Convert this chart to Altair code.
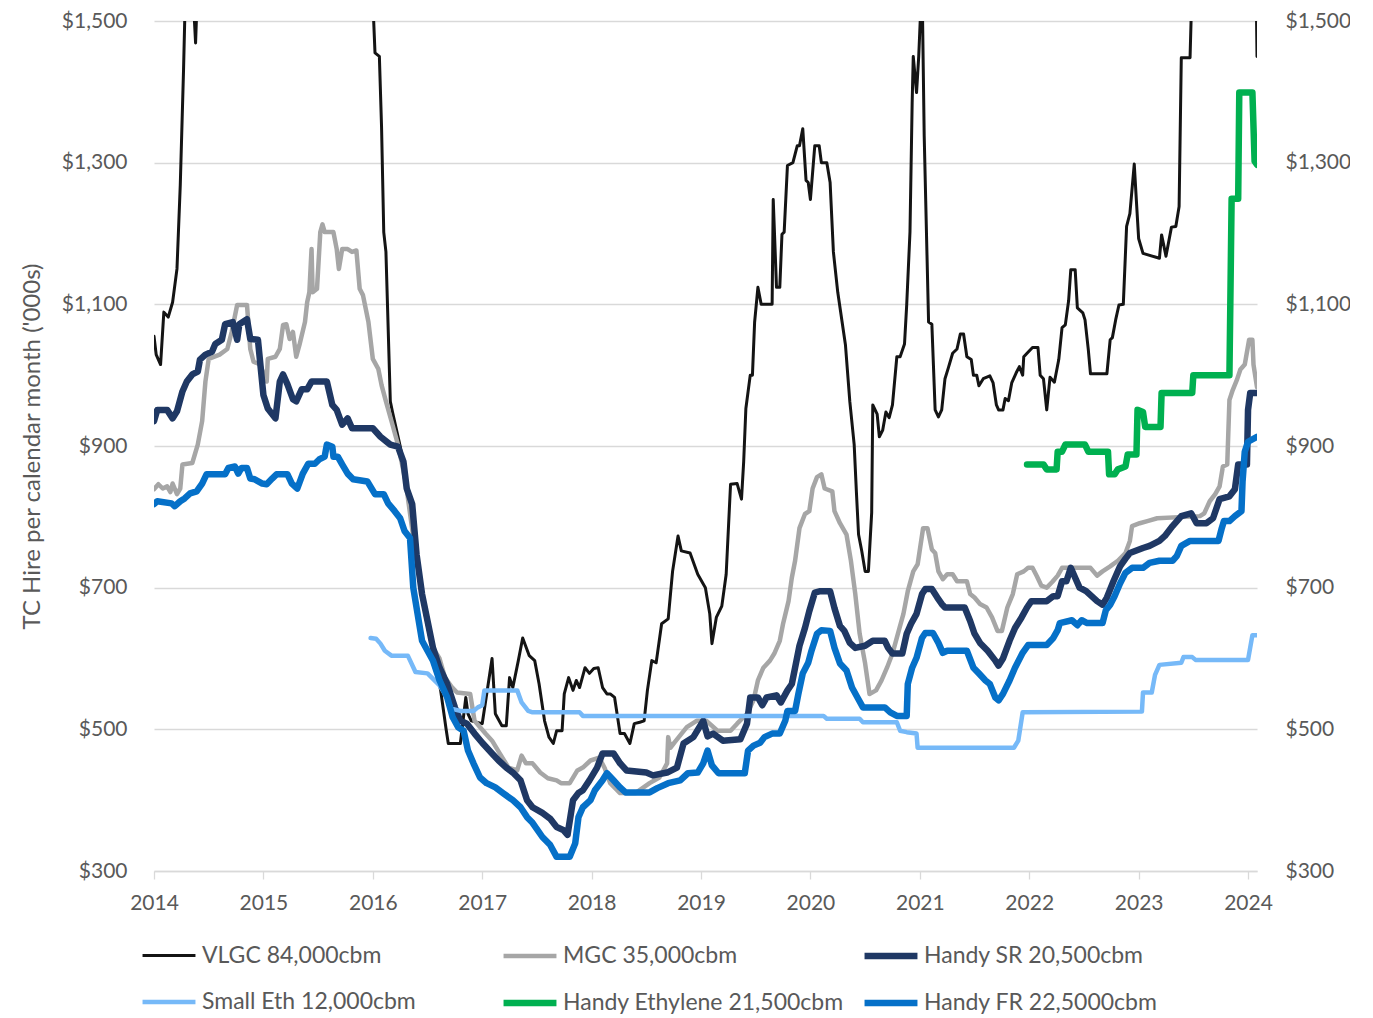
import altair as alt
import pandas as pd

SERIES = ["VLGC 84,000cbm", "MGC 35,000cbm", "Handy SR 20,500cbm",
          "Small Eth 12,000cbm", "Handy Ethylene 21,500cbm", "Handy FR 22,5000cbm"]
COLORS = ["#141414", "#a6a6a6", "#1f3864", "#76b9f8", "#00b050", "#0570c8"]
WIDTHS = [3, 4.5, 6.5, 4.5, 6.5, 6.5]

VLGC_T = [2014.00, 2014.02, 2014.06, 2014.09, 2014.13, 2014.17, 2014.21, 2014.24, 2014.27, 2014.29,
          2014.33, 2014.38, 2014.41, 2014.50, 2014.70, 2014.90, 2015.10, 2015.40, 2015.70, 2015.90,
          2016.00, 2016.02, 2016.06, 2016.08, 2016.10, 2016.12, 2016.16, 2016.18, 2016.25, 2016.32,
          2016.40, 2016.48, 2016.56, 2016.62, 2016.67, 2016.69, 2016.80, 2016.85, 2016.87, 2016.90,
          2017.00, 2017.09, 2017.12, 2017.18, 2017.22, 2017.25, 2017.28, 2017.33, 2017.37, 2017.43,
          2017.48, 2017.52, 2017.57, 2017.61, 2017.65, 2017.68, 2017.73, 2017.75, 2017.79, 2017.83,
          2017.86, 2017.89, 2017.94, 2017.98, 2018.02, 2018.06, 2018.10, 2018.14, 2018.17, 2018.21,
          2018.26, 2018.30, 2018.35, 2018.39, 2018.44, 2018.48, 2018.51, 2018.55, 2018.59, 2018.64,
          2018.70, 2018.74, 2018.79, 2018.82, 2018.90, 2018.97, 2019.04, 2019.08, 2019.10, 2019.14,
          2019.19, 2019.23, 2019.27, 2019.33, 2019.37, 2019.39, 2019.41, 2019.45, 2019.47, 2019.49,
          2019.52, 2019.55, 2019.65, 2019.66, 2019.69, 2019.72, 2019.74, 2019.76, 2019.79, 2019.84,
          2019.88, 2019.90, 2019.93, 2019.96, 2019.98, 2020.00, 2020.04, 2020.08, 2020.10, 2020.15,
          2020.18, 2020.21, 2020.25, 2020.32, 2020.36, 2020.40, 2020.42, 2020.44, 2020.47, 2020.50,
          2020.53, 2020.56, 2020.57, 2020.61, 2020.63, 2020.66, 2020.69, 2020.72, 2020.75, 2020.79,
          2020.82, 2020.86, 2020.88, 2020.91, 2020.93, 2020.94, 2020.97, 2020.99, 2021.02, 2021.04,
          2021.08, 2021.11, 2021.14, 2021.17, 2021.20, 2021.23, 2021.26, 2021.30, 2021.34, 2021.37,
          2021.40, 2021.43, 2021.47, 2021.49, 2021.52, 2021.54, 2021.58, 2021.64, 2021.67, 2021.70,
          2021.72, 2021.76, 2021.78, 2021.81, 2021.84, 2021.88, 2021.91, 2021.94, 2021.95, 2021.98,
          2022.03, 2022.08, 2022.10, 2022.13, 2022.16, 2022.19, 2022.23, 2022.27, 2022.30, 2022.33,
          2022.36, 2022.38, 2022.42, 2022.44, 2022.49, 2022.51, 2022.54, 2022.56, 2022.71, 2022.74,
          2022.76, 2022.79, 2022.82, 2022.86, 2022.89, 2022.92, 2022.96, 2022.98, 2023.00, 2023.04,
          2023.19, 2023.21, 2023.25, 2023.30, 2023.34, 2023.37, 2023.39, 2023.47, 2023.49, 2023.60,
          2023.80, 2024.00, 2024.07, 2024.082]
VLGC_V = [1055, 1029, 1015, 1089, 1082, 1103, 1150, 1268, 1431, 1560,
          1620, 1469, 1600, 1750, 1900, 1950, 1850, 1900, 1800, 1650,
          1530, 1455, 1450, 1350, 1202, 1174, 963, 948, 900, 840,
          740, 660, 600, 555, 500, 480, 480, 545, 522, 512,
          508, 600, 522, 505, 505, 573, 559, 597, 629, 604,
          597, 564, 512, 489, 480, 498, 498, 550, 573, 555,
          569, 559, 587, 579, 586, 587, 559, 550, 550, 545,
          494, 494, 480, 508, 510, 512, 555, 597, 594, 649,
          656, 723, 773, 752, 749, 719, 700, 663, 621, 658,
          674, 719, 846, 847, 825, 878, 953, 1000, 1000, 1075,
          1124, 1100, 1100, 1248, 1124, 1124, 1199, 1202, 1296, 1300,
          1324, 1324, 1348, 1275, 1272, 1248, 1324, 1324, 1300, 1300,
          1272, 1174, 1117, 1043, 963, 902, 836, 775, 751, 723,
          723, 806, 958, 945, 913, 922, 948, 940, 958, 1026,
          1026, 1044, 1099, 1202, 1385, 1450, 1399, 1450, 1560, 1338,
          1075, 1072, 951, 941, 951, 995, 1010, 1031, 1037, 1058,
          1058, 1026, 1022, 1000, 1000, 985, 995, 999, 989, 958,
          951, 951, 967, 964, 989, 1003, 1012, 1000, 1026, 1031,
          1039, 1039, 1000, 995, 951, 997, 990, 1022, 1067, 1071,
          1105, 1149, 1149, 1095, 1088, 1078, 1036, 1002, 1002, 1050,
          1053, 1078, 1099, 1100, 1210, 1228, 1298, 1245, 1193, 1172,
          1165, 1198, 1168, 1209, 1210, 1238, 1448, 1448, 1560, 1700,
          1800, 1700, 1600, 1450]

MGC_T = [2014.00, 2014.04, 2014.08, 2014.12, 2014.15, 2014.17, 2014.21, 2014.24, 2014.26, 2014.35,
         2014.40, 2014.44, 2014.47, 2014.50, 2014.60, 2014.67, 2014.71, 2014.76, 2014.85, 2014.88,
         2014.91, 2014.97, 2015.03, 2015.04, 2015.11, 2015.15, 2015.18, 2015.21, 2015.24, 2015.27,
         2015.30, 2015.33, 2015.38, 2015.40, 2015.42, 2015.44, 2015.45, 2015.49, 2015.52, 2015.54,
         2015.56, 2015.64, 2015.67, 2015.69, 2015.72, 2015.77, 2015.81, 2015.85, 2015.88, 2015.91,
         2015.96, 2016.00, 2016.05, 2016.08, 2016.12, 2016.18, 2016.23, 2016.30, 2016.38, 2016.45,
         2016.50, 2016.55, 2016.61, 2016.66, 2016.72, 2016.77, 2016.89, 2016.93, 2017.03, 2017.09,
         2017.16, 2017.24, 2017.32, 2017.36, 2017.40, 2017.46, 2017.53, 2017.60, 2017.68, 2017.72,
         2017.80, 2017.87, 2017.92, 2017.99, 2018.07, 2018.12, 2018.17, 2018.26, 2018.40, 2018.53,
         2018.62, 2018.69, 2018.70, 2018.72, 2018.76, 2018.87, 2018.96, 2019.05, 2019.15, 2019.27,
         2019.33, 2019.42, 2019.48, 2019.52, 2019.57, 2019.63, 2019.67, 2019.72, 2019.75, 2019.80,
         2019.83, 2019.86, 2019.90, 2019.95, 2019.99, 2020.02, 2020.06, 2020.10, 2020.13, 2020.20,
         2020.22, 2020.27, 2020.33, 2020.37, 2020.41, 2020.45, 2020.50, 2020.54, 2020.60, 2020.65,
         2020.70, 2020.75, 2020.80, 2020.85, 2020.89, 2020.94, 2020.98, 2021.03, 2021.07, 2021.11,
         2021.14, 2021.17, 2021.21, 2021.25, 2021.30, 2021.34, 2021.43, 2021.46, 2021.50, 2021.55,
         2021.61, 2021.66, 2021.71, 2021.75, 2021.80, 2021.85, 2021.89, 2021.95, 2021.99, 2022.03,
         2022.07, 2022.11, 2022.16, 2022.21, 2022.26, 2022.30, 2022.56, 2022.62, 2022.67, 2022.74,
         2022.81, 2022.88, 2022.92, 2022.94, 2023.01, 2023.08, 2023.17, 2023.56, 2023.60, 2023.65,
         2023.70, 2023.74, 2023.77, 2023.81, 2023.83, 2023.86, 2023.90, 2023.93, 2023.97, 2024.01,
         2024.04, 2024.05, 2024.082]
MGC_V = [839, 846, 840, 843, 835, 847, 832, 840, 874, 876,
         902, 935, 991, 1023, 1029, 1037, 1061, 1099, 1099, 1037,
         1019, 1015, 991, 1023, 1026, 1037, 1071, 1072, 1051, 1061,
         1026, 1043, 1075, 1103, 1117, 1178, 1117, 1122, 1202, 1213,
         1202, 1202, 1178, 1150, 1178, 1178, 1174, 1176, 1122, 1113,
         1075, 1023, 1009, 986, 963, 930, 902, 850, 760, 690,
         653, 615, 600, 573, 560, 552, 550, 512, 494, 484,
         466, 446, 442, 463, 452, 452, 439, 431, 428, 424,
         424, 442, 446, 456, 460, 445, 424, 410, 410, 424,
         432, 452, 489, 474, 482, 503, 512, 512, 498, 498,
         508, 522, 541, 569, 587, 597, 607, 625, 649, 681,
         714, 738, 784, 804, 808, 840, 856, 860, 840, 836,
         808, 791, 775, 738, 691, 635, 593, 550, 555, 569,
         587, 607, 635, 663, 695, 723, 733, 784, 784, 754,
         749, 723, 712, 719, 719, 709, 709, 691, 686, 677,
         672, 658, 639, 639, 672, 691, 719, 723, 728, 728,
         716, 703, 700, 708, 717, 728, 728, 717, 723, 730,
         738, 749, 766, 787, 791, 794, 798, 801, 805, 822,
         832, 843, 871, 874, 965, 979, 994, 1008, 1015, 1050,
         1050, 1015, 983]

SR_T = [2014.00, 2014.03, 2014.12, 2014.17, 2014.21, 2014.26, 2014.30, 2014.35, 2014.40, 2014.42,
        2014.47, 2014.53, 2014.56, 2014.62, 2014.65, 2014.72, 2014.76, 2014.78, 2014.85, 2014.88,
        2014.95, 2015.00, 2015.04, 2015.11, 2015.15, 2015.18, 2015.22, 2015.27, 2015.30, 2015.35,
        2015.40, 2015.44, 2015.58, 2015.63, 2015.67, 2015.72, 2015.77, 2015.81, 2016.00, 2016.07,
        2016.16, 2016.23, 2016.28, 2016.31, 2016.36, 2016.40, 2016.45, 2016.50, 2016.55, 2016.61,
        2016.68, 2016.75, 2016.80, 2016.86, 2016.93, 2017.00, 2017.09, 2017.15, 2017.22, 2017.28,
        2017.35, 2017.41, 2017.46, 2017.55, 2017.62, 2017.68, 2017.74, 2017.78, 2017.83, 2017.88,
        2017.92, 2017.98, 2018.05, 2018.10, 2018.20, 2018.26, 2018.32, 2018.50, 2018.56, 2018.69,
        2018.78, 2018.84, 2018.93, 2019.02, 2019.06, 2019.11, 2019.20, 2019.36, 2019.42, 2019.45,
        2019.52, 2019.56, 2019.60, 2019.69, 2019.73, 2019.79, 2019.83, 2019.86, 2019.90, 2019.95,
        2019.99, 2020.04, 2020.09, 2020.18, 2020.22, 2020.27, 2020.31, 2020.36, 2020.41, 2020.50,
        2020.57, 2020.68, 2020.71, 2020.75, 2020.84, 2020.88, 2020.92, 2020.97, 2021.02, 2021.05,
        2021.11, 2021.16, 2021.20, 2021.23, 2021.41, 2021.46, 2021.50, 2021.55, 2021.62, 2021.69,
        2021.72, 2021.76, 2021.82, 2021.87, 2021.93, 2021.98, 2022.02, 2022.16, 2022.22, 2022.26,
        2022.30, 2022.34, 2022.38, 2022.42, 2022.46, 2022.52, 2022.57, 2022.62, 2022.67, 2022.71,
        2022.77, 2022.83, 2022.88, 2022.92, 2023.04, 2023.10, 2023.19, 2023.24, 2023.31, 2023.39,
        2023.48, 2023.53, 2023.62, 2023.68, 2023.74, 2023.83, 2023.88, 2023.91, 2023.99, 2024.00,
        2024.02, 2024.082]
SR_V = [935, 951, 951, 939, 949, 977, 991, 1001, 1005, 1022,
        1029, 1033, 1044, 1050, 1072, 1075, 1050, 1072, 1079, 1051,
        1050, 972, 953, 939, 991, 1001, 987, 966, 963, 980,
        980, 991, 991, 958, 951, 930, 939, 925, 925, 913,
        902, 899, 878, 840, 818, 747, 691, 653, 615, 587,
        564, 531, 512, 508, 494, 481, 466, 456, 446, 439,
        428, 400, 390, 382, 374, 362, 358, 351, 400, 410,
        414, 428, 446, 466, 466, 452, 442, 439, 435, 439,
        446, 480, 489, 512, 490, 494, 484, 486, 508, 545,
        545, 534, 545, 548, 538, 555, 564, 587, 618, 643,
        667, 693, 695, 695, 671, 646, 639, 622, 615, 618,
        625, 625, 615, 607, 607, 635, 649, 663, 691, 698,
        698, 686, 677, 672, 672, 653, 635, 622, 611, 597,
        590, 600, 625, 643, 658, 672, 681, 681, 688, 688,
        709, 709, 728, 714, 700, 695, 688, 681, 676, 686,
        709, 730, 741, 749, 756, 759, 766, 773, 787, 801,
        805, 791, 791, 798, 825, 829, 839, 874, 874, 951,
        975, 975]

SMALL_T = [2015.98, 2016.03, 2016.07, 2016.11, 2016.17, 2016.32, 2016.39, 2016.50, 2016.61, 2016.66,
           2016.72, 2016.80, 2016.92, 2016.96, 2017.00, 2017.02, 2017.32, 2017.36, 2017.42, 2017.46,
           2017.89, 2017.92, 2020.12, 2020.15, 2020.45, 2020.48, 2020.79, 2020.82, 2020.88, 2020.97,
           2020.98, 2021.86, 2021.90, 2021.94, 2023.03, 2023.04, 2023.12, 2023.15, 2023.19, 2023.39,
           2023.41, 2023.49, 2023.52, 2024.00, 2024.04, 2024.082]
SMALL_V = [629, 628, 621, 611, 604, 604, 581, 579, 562, 550,
           529, 526, 526, 531, 534, 555, 555, 538, 526, 524,
           524, 519, 519, 515, 515, 510, 510, 498, 496, 494,
           474, 474, 484, 524, 525, 552, 552, 577, 591, 594,
           602, 602, 598, 598, 633, 633]

ETH_T = [2021.98, 2022.13, 2022.16, 2022.25, 2022.26, 2022.30, 2022.33, 2022.51, 2022.54, 2022.72,
         2022.73, 2022.78, 2022.81, 2022.88, 2022.90, 2022.98, 2022.99, 2023.04, 2023.06, 2023.20,
         2023.21, 2023.49, 2023.50, 2023.83, 2023.85, 2023.91, 2023.92, 2024.04, 2024.06, 2024.082]
ETH_V = [874, 874, 867, 867, 892, 892, 902, 902, 892, 892,
         860, 860, 867, 871, 888, 888, 951, 948, 927, 927,
         975, 975, 1000, 1000, 1249, 1249, 1399, 1399, 1302, 1297]

FR_T = [2014.00, 2014.03, 2014.16, 2014.19, 2014.24, 2014.28, 2014.33, 2014.39, 2014.44, 2014.48,
        2014.65, 2014.68, 2014.74, 2014.77, 2014.80, 2014.85, 2014.88, 2014.92, 2014.99, 2015.03,
        2015.08, 2015.12, 2015.22, 2015.26, 2015.31, 2015.36, 2015.41, 2015.47, 2015.51, 2015.56,
        2015.58, 2015.63, 2015.64, 2015.68, 2015.72, 2015.77, 2015.82, 2015.95, 2016.02, 2016.10,
        2016.14, 2016.20, 2016.25, 2016.29, 2016.34, 2016.37, 2016.42, 2016.45, 2016.50, 2016.55,
        2016.61, 2016.68, 2016.73, 2016.78, 2016.83, 2016.87, 2016.92, 2016.98, 2017.04, 2017.12,
        2017.19, 2017.28, 2017.35, 2017.41, 2017.46, 2017.55, 2017.62, 2017.68, 2017.80, 2017.85,
        2017.88, 2017.92, 2017.99, 2018.03, 2018.10, 2018.14, 2018.20, 2018.26, 2018.31, 2018.53,
        2018.60, 2018.70, 2018.81, 2018.88, 2018.97, 2019.02, 2019.06, 2019.10, 2019.16, 2019.40,
        2019.43, 2019.48, 2019.54, 2019.58, 2019.65, 2019.72, 2019.77, 2019.79, 2019.86, 2019.89,
        2019.93, 2019.98, 2020.01, 2020.06, 2020.10, 2020.18, 2020.22, 2020.27, 2020.33, 2020.38,
        2020.43, 2020.48, 2020.68, 2020.73, 2020.79, 2020.88, 2020.89, 2020.93, 2020.97, 2021.02,
        2021.05, 2021.12, 2021.17, 2021.21, 2021.25, 2021.43, 2021.49, 2021.54, 2021.60, 2021.64,
        2021.69, 2021.72, 2021.76, 2021.82, 2021.87, 2021.94, 2021.99, 2022.16, 2022.22, 2022.26,
        2022.28, 2022.39, 2022.44, 2022.48, 2022.53, 2022.67, 2022.70, 2022.74, 2022.78, 2022.83,
        2022.88, 2022.94, 2023.04, 2023.10, 2023.19, 2023.31, 2023.35, 2023.39, 2023.47, 2023.73,
        2023.76, 2023.78, 2023.83, 2023.88, 2023.94, 2023.95, 2023.97, 2024.00, 2024.082]
FR_V = [818, 822, 819, 815, 822, 826, 833, 836, 847, 860,
        860, 869, 871, 861, 869, 869, 854, 853, 847, 846,
        854, 860, 860, 847, 840, 861, 875, 875, 881, 885,
        902, 899, 885, 885, 874, 861, 853, 850, 832, 832,
        819, 808, 798, 780, 770, 700, 653, 625, 611, 597,
        569, 545, 517, 503, 498, 470, 452, 432, 424, 418,
        410, 400, 390, 376, 368, 348, 337, 320, 320, 339,
        376, 390, 400, 414, 428, 438, 428, 418, 411, 411,
        417, 424, 428, 438, 439, 452, 470, 449, 438, 438,
        470, 477, 481, 489, 494, 494, 512, 526, 526, 550,
        579, 594, 611, 635, 640, 639, 615, 593, 583, 559,
        545, 531, 531, 524, 519, 519, 564, 587, 601, 629,
        636, 636, 622, 608, 611, 611, 587, 579, 569, 564,
        545, 541, 550, 569, 587, 608, 619, 619, 629, 640,
        650, 654, 647, 654, 650, 650, 668, 676, 688, 706,
        721, 728, 728, 735, 738, 738, 745, 759, 766, 766,
        784, 794, 794, 801, 808, 850, 892, 906, 913]

Y_TICKS = [300, 500, 700, 900, 1100, 1300, 1500]
X_TICKS = list(range(2014, 2025))

frames = []
for name, ts, vs in zip(SERIES, [VLGC_T, MGC_T, SR_T, SMALL_T, ETH_T, FR_T],
                        [VLGC_V, MGC_V, SR_V, SMALL_V, ETH_V, FR_V]):
    frames.append(pd.DataFrame({"series": name, "t": ts, "v": vs}))
df = pd.concat(frames, ignore_index=True)

GRAY = "#595959"
FONT = "Lato"
xscale = alt.Scale(domain=[2014, 2024.082], nice=False, zero=False)
yscale = alt.Scale(domain=[300, 1500], nice=False, zero=False)

legend = alt.Legend(
    title=None, orient="none", legendX=-15, legendY=905, columns=3, direction="horizontal",
    symbolType="stroke", symbolSize=2800, labelFont=FONT, labelFontSize=23,
    labelColor=GRAY, labelOffset=3, columnPadding=7, rowPadding=4,
    gridAlign="all", labelLimit=400,
)

lines = alt.Chart(df).mark_line(clip=True, strokeJoin="round", strokeCap="round").encode(
    x=alt.X("t:Q", scale=xscale, title=None,
            axis=alt.Axis(values=X_TICKS, format="d", labelFont=FONT, labelFontSize=21,
                          labelColor=GRAY, grid=False, domainColor="#d9d9d9", domainWidth=1.3,
                          tickColor="#d9d9d9", tickSize=8, tickWidth=1.3, labelPadding=13,
                          labelFlush=False)),
    y=alt.Y("v:Q", scale=yscale, title="TC Hire per calendar month ('000s)",
            axis=alt.Axis(values=Y_TICKS, format="$,.0f", labelFont=FONT, labelFontSize=21,
                          labelColor=GRAY, domain=False, ticks=False, labelPadding=27,
                          gridColor="#d9d9d9", gridWidth=1.3, titleFont=FONT, titleFontSize=24,
                          titleFontWeight="normal", titleColor=GRAY, titleX=-110)),
    color=alt.Color("series:N", scale=alt.Scale(domain=SERIES, range=COLORS), legend=legend),
    strokeWidth=alt.StrokeWidth("series:N",
                                scale=alt.Scale(type="ordinal", domain=SERIES, range=WIDTHS),
                                legend=legend),
)

right = alt.Chart(pd.DataFrame({"t": [2014.0, 2014.0], "v": [300, 1500]})).mark_point(opacity=0).encode(
    x=alt.X("t:Q", scale=xscale),
    y=alt.Y("v:Q", scale=yscale, title=None,
            axis=alt.Axis(orient="right", values=Y_TICKS, format="$,.0f", labelFont=FONT,
                          labelFontSize=21, labelColor=GRAY, domain=False, ticks=False,
                          labelPadding=28, grid=False)),
)

chart = alt.layer(lines, right).resolve_scale(y="independent").properties(
    width=1103, height=850,
    autosize=alt.AutoSizeParams(type="none"),
    padding={"left": 146, "top": 13, "right": 93, "bottom": 145},
).configure_view(stroke=None)

chart.save("out.html", embed_options={"renderer": "svg", "actions": False})
